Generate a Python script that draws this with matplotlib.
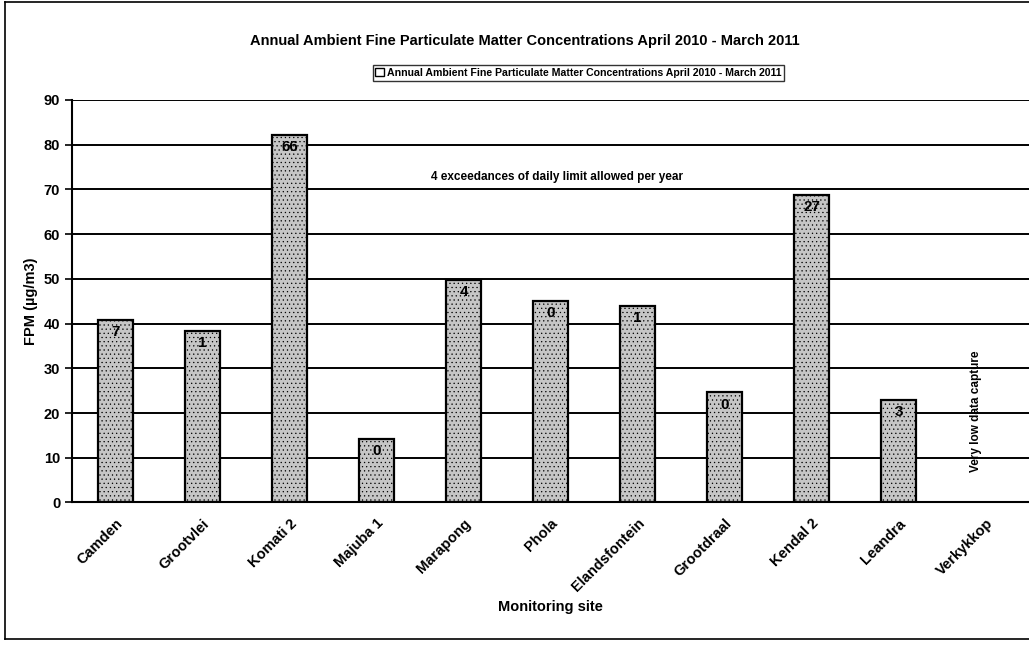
import numpy as np
import matplotlib.pyplot as plt
from matplotlib.lines import Line2D
from matplotlib.patches import Patch

plt.rcParams['font.family'] = ['Liberation Sans', 'DejaVu Sans']
plt.rcParams['font.weight'] = 'bold'
plt.rcParams['hatch.color'] = '#9a9a9a'

# datos
sitios = ["Camden", "Grootvlei", "Komati 2", "Majuba 1", "Marapong", "Phola",
          "Elandsfontein", "Grootdraal", "Kendal 2", "Leandra", "Verkykkop"]
fpm = [40.8, 38.3, 82.2, 14.2, 49.8, 45.0, 44.0, 24.6, 68.7, 23.0, 0]
excedencias = ["7", "1", "66", "0", "4", "0", "1", "0", "27", "3", ""]

titulo = "Annual Ambient Fine Particulate Matter Concentrations April 2010 - March 2011"

fig = plt.figure(figsize=(10.29, 6.45), dpi=100)
ax = fig.add_axes([0.070, 0.221, 0.930, 0.624])

x = np.arange(len(sitios))
barras = ax.bar(x, fpm, width=0.40, color='#c6c6c6', edgecolor='black',
                linewidth=1.6, hatch='....', zorder=3)
for b, v in zip(barras, fpm):
    b.set_hatch_linewidth(0.4)
    if v == 0:  # Verkykkop sin dato
        b.set_visible(False)

for xi, v, t in zip(x, fpm, excedencias):
    if t:
        ax.text(xi, v - 2.7, t, ha='center', va='center', fontsize=11,
                fontweight='bold', zorder=4)

ax.set_ylim(0, 90)
ax.set_xlim(-0.5, len(sitios) - 0.5)
ax.set_yticks(np.arange(0, 91, 10))
ax.yaxis.grid(True, color='black', linewidth=1.4, zorder=0)
ax.set_axisbelow(True)
for s in ['top', 'right']:
    ax.spines[s].set_visible(False)
ax.spines['left'].set_linewidth(1.5)
ax.spines['bottom'].set_linewidth(1.5)
ax.tick_params(axis='y', length=5, width=1.2, labelsize=10.5)
ax.tick_params(axis='x', length=0, labelsize=10.5, pad=10)
ax.set_xticks(x)
ax.set_xticklabels(sitios, rotation=45, ha='right', rotation_mode='anchor',
                   fontweight='bold')
for lab in ax.get_yticklabels():
    lab.set_fontweight('bold')

ax.set_ylabel("FPM (µg/m3)", fontsize=10.5, fontweight='bold', labelpad=4)
ax.set_xlabel("Monitoring site", fontsize=10.5, fontweight='bold', labelpad=4)

ax.text(5.07, 72.8, "4 exceedances of daily limit allowed per year",
        ha='center', va='center', fontsize=8.5, fontweight='bold')
ax.text(9.89, 20.5, "Very low data capture", rotation=90, ha='center',
        va='center', fontsize=8.5, fontweight='bold')

fig.text(0.51, 0.937, titulo, ha='center', va='center', fontsize=10.5,
         fontweight='bold')
fig.legend(handles=[Patch(facecolor='white', edgecolor='black', linewidth=1.0,
                          label=titulo)],
           loc='center', bbox_to_anchor=(0.562, 0.887),
           frameon=True, fancybox=False, edgecolor='black', handlelength=0.8,
           handleheight=0.8, handletextpad=0.3, borderpad=0.25,
           prop={'weight': 'bold', 'size': 7.6})

# marco exterior
fig.add_artist(Line2D([0.005, 0.005], [0.01, 0.997], color='black', linewidth=1.2))
fig.add_artist(Line2D([0.005, 1.0], [0.997, 0.997], color='black', linewidth=1.2))
fig.add_artist(Line2D([0.005, 1.0], [0.01, 0.01], color='black', linewidth=1.2))

fig.savefig('out.png', dpi=100)
